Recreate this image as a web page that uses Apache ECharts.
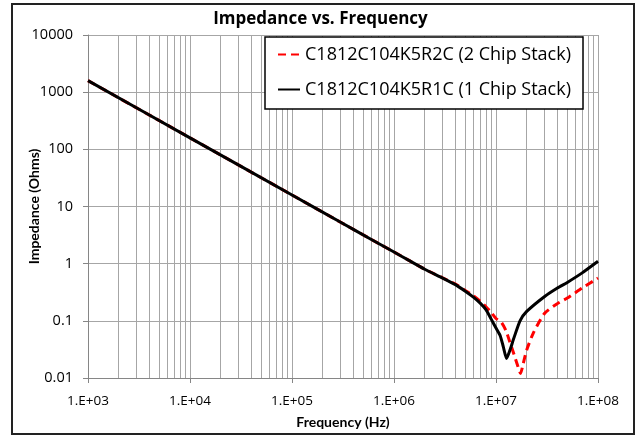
<!DOCTYPE html>
<html>
<head>
<meta charset="utf-8">
<script src="https://cdn.jsdelivr.net/npm/echarts@6/dist/echarts.min.js"></script>
<style>
html,body{margin:0;padding:0;background:#fff;}
#main{width:641px;height:437px;}
</style>
</head>
<body>
<div id="main"></div>
<script>
// 1 chip stack (black)
var freq1 = [1e3, 1e4, 1e5, 3e5, 6e5, 1e6, 1.4e6, 2e6, 3e6, 4e6, 5e6, 6e6, 7e6, 8e6, 9e6, 1e7, 1.1e7, 1.18e7, 1.27e7, 1.39e7, 1.48e7, 1.72e7, 2e7, 3e7, 4e7, 5e7, 7e7, 1e8];
var imp1 = [1590, 159, 15.9, 5.3, 2.65, 1.6, 1.14, 0.8, 0.56, 0.43, 0.33, 0.26, 0.204, 0.156, 0.106, 0.075, 0.055, 0.035, 0.022, 0.033, 0.047, 0.1, 0.146, 0.267, 0.375, 0.47, 0.69, 1.1];
// 2 chip stack (red dashed)
var freq2 = [1e3, 1e4, 1e5, 3e5, 6e5, 1e6, 1.4e6, 2e6, 3e6, 4e6, 5e6, 6e6, 7e6, 8e6, 9e6, 1e7, 1.13e7, 1.25e7, 1.37e7, 1.5e7, 1.62e7, 1.74e7, 1.85e7, 2e7, 2.32e7, 3e7, 4e7, 5e7, 7e7, 1e8];
var imp2 = [1590, 159, 15.9, 5.3, 2.65, 1.6, 1.14, 0.8, 0.565, 0.44, 0.34, 0.275, 0.22, 0.175, 0.14, 0.11, 0.094, 0.068, 0.042, 0.026, 0.017, 0.012, 0.018, 0.031, 0.061, 0.136, 0.2, 0.25, 0.375, 0.56];

var seriesNames = ['C1812C104K5R2C (2 Chip Stack)', 'C1812C104K5R1C (1 Chip Stack)'];
var xTickLabels = ['1.E+03', '1.E+04', '1.E+05', '1.E+06', '1.E+07', '1.E+08'];
var yTickLabels = ['0.01', '0.1', '1', '10', '100', '1000', '10000'];
var decades = [1e3, 1e4, 1e5, 1e6, 1e7];
var minorSteps = [2, 3, 4, 5, 6, 7, 8, 9];

function pairs(xs, ys) {
    var out = [];
    for (var i = 0; i < xs.length; i++) out.push([xs[i], ys[i]]);
    return out;
}

var minorLines = [];
for (var d = 0; d < decades.length; d++) {
    for (var m = 0; m < minorSteps.length; m++) {
        minorLines.push({xAxis: decades[d] * minorSteps[m]});
    }
}

var font = '"Open Sans", sans-serif';
var nameFont = 'Lato, "Open Sans", sans-serif';
var gridColor = '#a6a6a6';

var myChart = echarts.init(document.getElementById('main'));
myChart.setOption({
    animation: false,
    textStyle: {fontFamily: font},
    title: {
        text: 'Impedance vs. Frequency',
        left: 'center',
        top: 6,
        textStyle: {fontSize: 17, fontWeight: 'bold', color: '#000', fontFamily: font}
    },
    legend: {
        orient: 'vertical',
        left: 265,
        top: 37,
        itemWidth: 22,
        itemHeight: 14,
        itemGap: 16,
        padding: [8, 12, 10, 12],
        backgroundColor: '#fff',
        borderColor: '#000',
        borderWidth: 1.5,
        borderRadius: 0,
        itemStyle: {opacity: 0},
        textStyle: {fontSize: 18, lineHeight: 19, color: '#000', fontFamily: font},
        data: seriesNames
    },
    graphic: [{
        type: 'rect',
        shape: {x: 12, y: 4, width: 622, height: 430},
        style: {fill: 'none', stroke: '#222', lineWidth: 2},
        silent: true,
        z: -1
    }],
    grid: {left: 88, right: 43, top: 35, bottom: 59},
    xAxis: {
        type: 'log',
        logBase: 10,
        min: 1e3,
        max: 1e8,
        splitNumber: 5,
        name: 'Frequency (Hz)',
        nameLocation: 'middle',
        nameGap: 37,
        nameMoveOverlap: false,
        nameTextStyle: {fontSize: 14, fontWeight: 'bold', color: '#000', fontFamily: nameFont},
        axisLine: {lineStyle: {color: '#868686', width: 1}},
        axisTick: {show: true, length: 5, lineStyle: {color: '#868686'}},
        axisLabel: {
            margin: 16,
            fontSize: 13.5,
            color: '#000',
            formatter: function (v) {
                return xTickLabels[Math.round(Math.log10(v)) - 3];
            }
        },
        splitLine: {show: true, lineStyle: {color: gridColor, width: 1}}
    },
    yAxis: {
        type: 'log',
        logBase: 10,
        min: 0.01,
        max: 10000,
        splitNumber: 6,
        name: 'Impedance (Ohms)',
        nameLocation: 'middle',
        nameGap: 47,
        nameMoveOverlap: false,
        nameTextStyle: {fontSize: 14, fontWeight: 'bold', color: '#000', fontFamily: nameFont},
        axisLine: {show: true, lineStyle: {color: '#868686', width: 1}},
        axisTick: {show: true, length: 5, lineStyle: {color: '#868686'}},
        axisLabel: {
            margin: 15,
            fontSize: 14.5,
            color: '#000',
            formatter: function (v) {
                return yTickLabels[Math.round(Math.log10(v)) + 2];
            }
        },
        splitLine: {show: true, lineStyle: {color: gridColor, width: 1}}
    },
    series: [
        {
            name: seriesNames[0],
            type: 'line',
            data: pairs(freq2, imp2),
            showSymbol: false,
            symbol: 'none',
            smooth: 0.2,
            lineStyle: {color: '#ff0000', width: 3, type: [8, 5]},
            itemStyle: {color: '#ff0000'},
            markLine: {
                silent: true,
                symbol: 'none',
                label: {show: false},
                lineStyle: {color: gridColor, width: 1, type: 'solid'},
                data: minorLines,
                z: 0
            }
        },
        {
            name: seriesNames[1],
            type: 'line',
            data: pairs(freq1, imp1),
            showSymbol: false,
            symbol: 'none',
            smooth: 0.2,
            lineStyle: {color: '#000', width: 3},
            itemStyle: {color: '#000'}
        }
    ]
});
</script>
</body>
</html>
